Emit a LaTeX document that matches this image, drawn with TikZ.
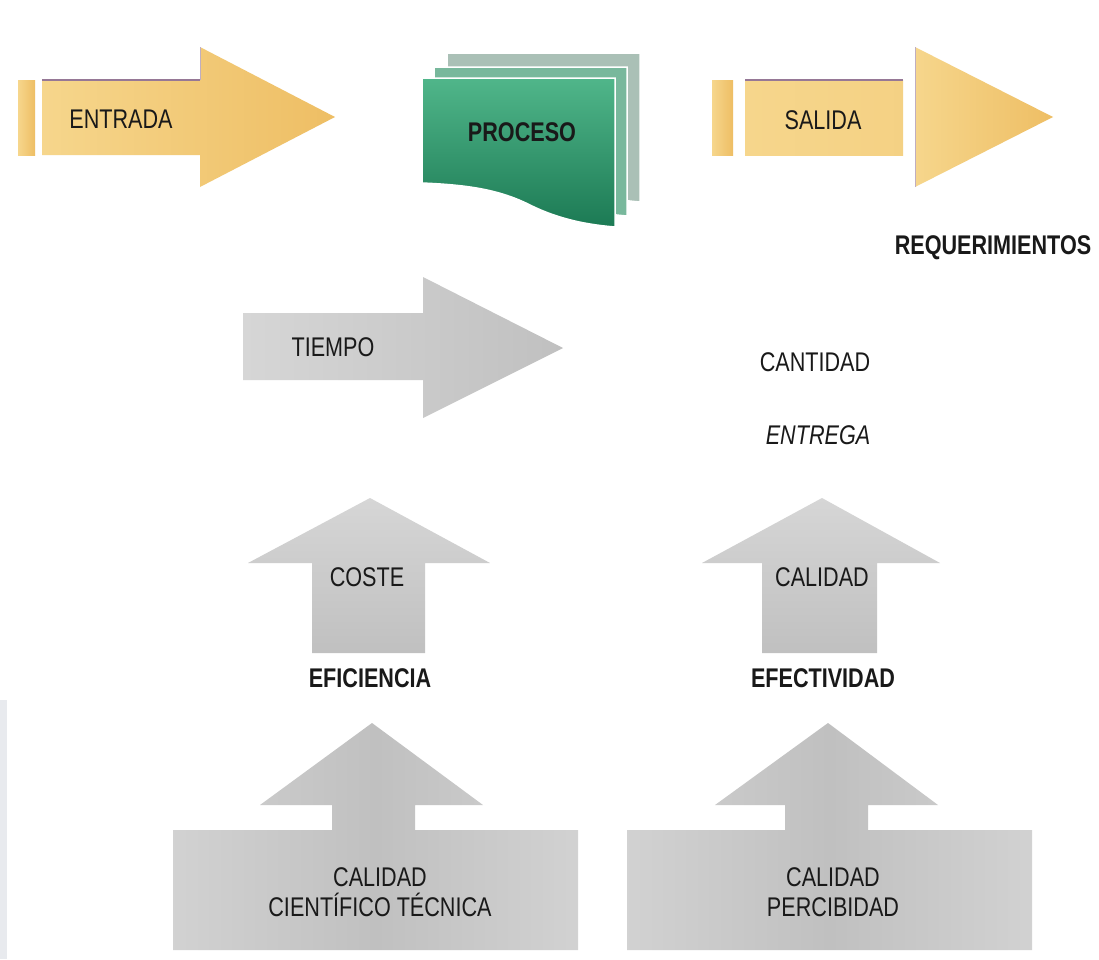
\documentclass[tikz,border=0pt]{standalone}
\usepackage{fontspec}
\setmainfont{Liberation Sans}
\newfontfamily\condf[FakeStretch=0.8]{Liberation Sans}
\definecolor{yelA}{RGB}{246,214,140}
\definecolor{yelB}{RGB}{238,190,100}
\definecolor{yelEdge}{RGB}{150,120,150}
\definecolor{grnA}{RGB}{80,182,138}
\definecolor{grnB}{RGB}{28,122,84}
\definecolor{grnMid}{RGB}{120,184,156}
\definecolor{grnBack}{RGB}{170,192,182}
\definecolor{grayA}{RGB}{214,214,214}
\definecolor{grayB}{RGB}{192,192,192}
\definecolor{strip}{RGB}{232,234,238}
\definecolor{txt}{RGB}{25,25,25}
\tikzset{
  lbl/.style={font=\condf\fontsize{27}{30}\selectfont, text=txt, inner sep=0pt, align=center},
  blbl/.style={lbl, font=\condf\bfseries\fontsize{27}{30}\selectfont},
  ilbl/.style={lbl, font=\condf\itshape\fontsize{27}{30}\selectfont},
  yelshape/.style={left color=yelA, right color=yelB},
  grayshape/.style={top color=grayA, bottom color=grayB},
}
\begin{document}
\begin{tikzpicture}[x=1pt,y=-1pt]
\useasboundingbox[fill=white] (0,0) rectangle (1099,959);
\fill[strip] (0,700) rectangle (7,959);

% ENTRADA arrow
\shade[yelshape] (18,80) rectangle (35,155);
\shade[yelshape] (42,80) -- (200,80) -- (200,47) -- (335,117) -- (200,187) -- (200,155) -- (42,155) -- cycle;
\draw[yelEdge, line width=2] (42,80) -- (200,80);
\draw[yelEdge!60, line width=1] (200,80) -- (200,47);
\node[lbl] (entrada) at (121,119) {ENTRADA};

% PROCESO document stack
\fill[grnBack, draw=white, line width=1.5, shift={(25,-25)}] (422,78) -- (615,78) -- (615,227)
  .. controls (590,225) and (560,220) .. (530,205)
  .. controls (500,190) and (470,185) .. (422,183) -- cycle;
\fill[grnMid, draw=white, line width=1.5, shift={(12,-11)}] (422,78) -- (615,78) -- (615,227)
  .. controls (590,225) and (560,220) .. (530,205)
  .. controls (500,190) and (470,185) .. (422,183) -- cycle;
\shade[top color=grnA, bottom color=grnB, draw=white, line width=1.5] (422,78) -- (615,78) -- (615,227)
  .. controls (590,225) and (560,220) .. (530,205)
  .. controls (500,190) and (470,185) .. (422,183) -- cycle;
\node[blbl] (proceso) at (522,132) {PROCESO};

% SALIDA arrow
\shade[yelshape] (712,80) rectangle (733,155);
\shade[left color=yelA, right color=yelA!80!yelB] (745,80) rectangle (903,155);
\draw[yelEdge, line width=2] (745,80) -- (903,80);
\shade[yelshape] (915,47) -- (1053,117) -- (915,187) -- cycle;
\draw[yelEdge!60, line width=1] (915,47) -- (915,187);
\node[lbl] (salida) at (823,120) {SALIDA};

\node[blbl] (req) at (993,248) {REQUERIMIENTOS};

% TIEMPO arrow
\shade[left color=grayA, right color=grayB] (243,313) -- (423,313) -- (423,277) -- (563,348) -- (423,418) -- (423,380) -- (243,380) -- cycle;
\node[lbl] (tiempo) at (333,347) {TIEMPO};

\node[lbl] (cantidad) at (815,362) {CANTIDAD};
\node[ilbl] (entrega) at (818,435) {ENTREGA};

% COSTE arrow
\shade[grayshape] (312,653) -- (312,563) -- (248,563) -- (370,498) -- (490,563) -- (425,563) -- (425,653) -- cycle;
\node[lbl] (coste) at (367,577) {COSTE};
\node[blbl] (eficiencia) at (370,678) {EFICIENCIA};

% CALIDAD arrow
\shade[grayshape] (762,653) -- (762,563) -- (702,563) -- (822,498) -- (940,563) -- (877,563) -- (877,653) -- cycle;
\node[lbl] (calidad) at (822,577) {CALIDAD};
\node[blbl] (efectividad) at (823,678) {EFECTIVIDAD};

% bottom left
\shade[left color=grayA!80!grayB, right color=grayA!80!grayB, middle color=grayB] (173,830) -- (332,830) -- (332,805) -- (260,805) -- (372,723) -- (483,805) -- (415,805) -- (415,830) -- (578,830) -- (578,950) -- (173,950) -- cycle;
\node[lbl] (cct) at (380,892) {CALIDAD\\CIENTÍFICO TÉCNICA};

% bottom right
\shade[left color=grayA!80!grayB, right color=grayA!80!grayB, middle color=grayB] (627,830) -- (785,830) -- (785,805) -- (715,805) -- (828,723) -- (938,805) -- (868,805) -- (868,830) -- (1032,830) -- (1032,950) -- (627,950) -- cycle;
\node[lbl] (cp) at (833,892) {CALIDAD\\PERCIBIDAD};
\end{tikzpicture}
\end{document}
